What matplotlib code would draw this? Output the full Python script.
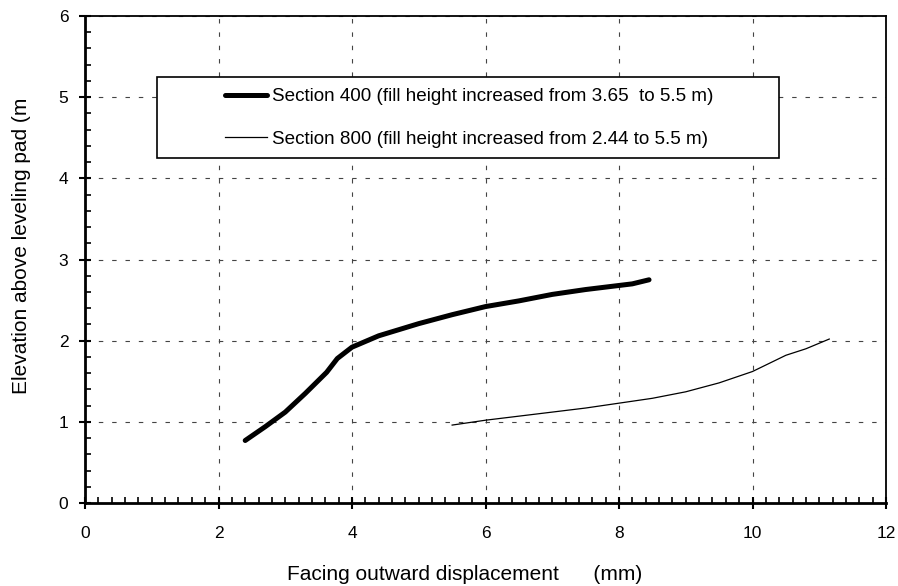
import matplotlib
matplotlib.use("Agg")
import matplotlib.pyplot as plt
from matplotlib.ticker import MultipleLocator
from matplotlib.patches import Rectangle

plt.rcParams['font.family'] = ['Liberation Sans', 'DejaVu Sans']

# Section 400 (fill height increased from 3.65 to 5.5 m)
s400_x = [2.40, 2.70, 3.00, 3.30, 3.62, 3.78, 4.00, 4.40, 5.00, 5.50, 6.00, 6.50, 7.00, 7.50, 8.00, 8.20, 8.45]
s400_y = [0.77, 0.94, 1.12, 1.35, 1.61, 1.78, 1.92, 2.06, 2.21, 2.32, 2.42, 2.49, 2.57, 2.63, 2.68, 2.70, 2.75]

# Section 800 (fill height increased from 2.44 to 5.5 m)
s800_x = [5.50, 6.00, 6.50, 7.00, 7.50, 8.00, 8.50, 9.00, 9.50, 10.00, 10.50, 10.80, 11.15]
s800_y = [0.96, 1.02, 1.07, 1.12, 1.17, 1.23, 1.29, 1.37, 1.48, 1.62, 1.82, 1.90, 2.02]

labels = ["Section 400 (fill height increased from 3.65  to 5.5 m)",
          "Section 800 (fill height increased from 2.44 to 5.5 m)"]

xlabel = "Facing outward displacement      (mm)"
ylabel = "Elevation above leveling pad (m"

W, H = 898, 586
fig = plt.figure(figsize=(W / 100, H / 100), dpi=100)
ax = fig.add_axes([85 / W, (H - 503) / H, (886 - 85) / W, (503 - 16) / H])

ax.plot(s400_x, s400_y, color='black', lw=3.6, solid_capstyle='round', label=labels[0], zorder=3)
ax.plot(s800_x, s800_y, color='black', lw=0.9, label=labels[1], zorder=3)

ax.set_xlim(0, 12)
ax.set_ylim(0, 6)
ax.xaxis.set_major_locator(MultipleLocator(2))
ax.xaxis.set_minor_locator(MultipleLocator(0.2))
ax.yaxis.set_major_locator(MultipleLocator(1))
ax.yaxis.set_minor_locator(MultipleLocator(0.2))

ax.tick_params(which='major', direction='inout', length=9, width=1.5, labelsize=12.5)
ax.tick_params(axis='x', which='major', pad=12)
ax.tick_params(axis='y', which='major', pad=7.5)
ax.tick_params(which='minor', direction='in', length=4, width=1.2)
ax.tick_params(top=False, right=False, which='both')

for s in ['left', 'bottom']:
    ax.spines[s].set_linewidth(2.0)
for s in ['top', 'right']:
    ax.spines[s].set_linewidth(1.3)

ax.grid(True, which='major', color='#444444', linestyle=(0, (4, 8)), linewidth=0.8)
ax.set_axisbelow(True)

# legend box (pixel positions of the reference frame)
bx0, bx1, by0, by1 = 157, 779, 77, 158
box = Rectangle((bx0 / W, 1 - by1 / H), (bx1 - bx0) / W, (by1 - by0) / H,
                transform=fig.transFigure, facecolor='white', edgecolor='black',
                linewidth=1.2, zorder=2.5)
ax.add_patch(box)
box.set_clip_on(False)

leg = ax.legend(loc='upper left', bbox_to_anchor=(225 / W, 1 - 88 / H), bbox_transform=fig.transFigure,
                frameon=False, fontsize=13.6,
                handlelength=2.2, handletextpad=0.3, borderpad=0, labelspacing=1.35,
                borderaxespad=0)

fig.text(465 / W, 1 - 580 / H, xlabel, ha='center', va='baseline', fontsize=15)
fig.text(22 / W, 1 - 246 / H, ylabel, ha='center', va='center', rotation=90, fontsize=15)

fig.savefig("out.png", dpi=100)
